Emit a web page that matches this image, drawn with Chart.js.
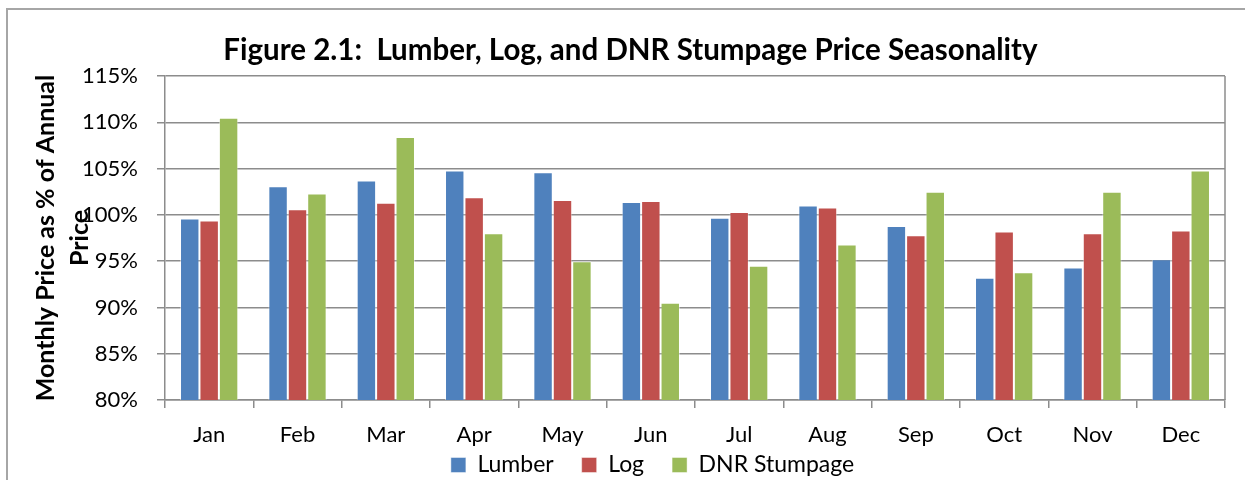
<!DOCTYPE html>
<html>
<head>
<meta charset="utf-8">
<script src="https://cdn.jsdelivr.net/npm/chart.js@4"></script>
<style>
  html, body { margin: 0; padding: 0; background: #fff; }
  #wrap { width: 1245px; height: 480px; }
</style>
</head>
<body>
<div id="wrap"><canvas id="myChart" width="1245" height="480"></canvas></div>
<script>
// months on the x axis
var months = ['Jan', 'Feb', 'Mar', 'Apr', 'May', 'Jun', 'Jul', 'Aug', 'Sep', 'Oct', 'Nov', 'Dec'];

// monthly price as % of annual price
var lumber = [99.6, 103.1, 103.7, 104.8, 104.6, 101.4, 99.7, 101.0, 98.8, 93.2, 94.3, 95.2];
var log = [99.4, 100.6, 101.3, 101.9, 101.6, 101.5, 100.3, 100.8, 97.8, 98.2, 98.0, 98.3];
var stumpage = [110.5, 102.3, 108.4, 98.0, 95.0, 90.5, 94.5, 96.8, 102.5, 93.8, 102.5, 104.8];

var yTicks = [80, 85, 90, 95, 100, 105, 110, 115];

var FONT = 'Lato, "Open Sans", sans-serif';
Chart.defaults.font.family = FONT;
Chart.defaults.color = '#000';

// outer frame, right edge of the plot area, legend nudged like the excel original
var framePlugin = {
    id: 'frame',
    afterLayout: function (chart) {
        var lg = chart.legend;
        lg.top -= 24.5; lg.bottom -= 24.5;
        lg.left += 22; lg.right += 22;
    },
    afterDraw: function (chart) {
        var ctx = chart.ctx;
        var a = chart.chartArea;
        ctx.save();
        ctx.strokeStyle = '#a6a6a6';
        ctx.lineWidth = 2;
        ctx.beginPath();
        ctx.moveTo(7, 480);
        ctx.lineTo(7, 9);
        ctx.lineTo(1245, 9);
        ctx.stroke();
        ctx.strokeStyle = '#8c8c8c';
        ctx.lineWidth = 1.5;
        ctx.beginPath();
        ctx.moveTo(a.right, a.top);
        ctx.lineTo(a.right, a.bottom);
        ctx.stroke();
        ctx.restore();
    }
};

var ctx = document.getElementById('myChart').getContext('2d');
var chart = new Chart(ctx, {
    type: 'bar',
    data: {
        labels: months,
        datasets: [
            { label: 'Lumber', data: lumber, backgroundColor: '#4F81BD', borderColor: 'rgba(255,255,255,0.45)', borderWidth: 1 },
            { label: 'Log', data: log, backgroundColor: '#C0504D', borderColor: 'rgba(255,255,255,0.45)', borderWidth: 1 },
            { label: 'DNR Stumpage', data: stumpage, backgroundColor: '#9BBB59', borderColor: 'rgba(255,255,255,0.45)', borderWidth: 1 }
        ]
    },
    options: {
        responsive: false,
        animation: false,
        layout: { padding: { left: 36, right: 20, top: 0, bottom: -31 } },
        datasets: { bar: { categoryPercentage: 0.66, barPercentage: 1.0 } },
        plugins: {
            title: {
                display: true,
                text: 'Figure 2.1:  Lumber, Log, and DNR Stumpage Price Seasonality',
                font: { size: 29.5, weight: 'bold', family: FONT, lineHeight: 1.2 },
                color: '#000',
                padding: { top: 33, bottom: 7.6 }
            },
            legend: {
                position: 'bottom',
                labels: {
                    boxWidth: 15,
                    boxHeight: 15,
                    padding: 28,
                    font: { size: 23, family: FONT },
                    color: '#000'
                }
            },
            tooltip: { enabled: false }
        },
        scales: {
            x: {
                grid: { display: true, drawOnChartArea: false, drawTicks: true, tickLength: 8, color: '#8c8c8c', lineWidth: 1.5, offset: true },
                border: { color: '#8c8c8c', width: 1.5 },
                ticks: { font: { size: 22, family: FONT }, color: '#000', padding: 14 },
                afterFit: function (scale) { scale.height = 50; }
            },
            y: {
                min: 80,
                max: 115,
                afterBuildTicks: function (scale) {
                    scale.ticks = yTicks.map(function (v) { return { value: v }; });
                },
                grid: { color: '#8c8c8c', lineWidth: 1.5, tickLength: 8 },
                border: { color: '#8c8c8c', width: 1.5 },
                ticks: {
                    font: { size: 22, family: FONT },
                    color: '#000',
                    padding: 19,
                    callback: function (v) { return v + '%'; }
                },
                title: {
                    display: true,
                    text: ['Monthly Price as % of Annual', 'Price'],
                    font: { size: 25, weight: 'bold', family: FONT, lineHeight: 1.36 },
                    color: '#000',
                    padding: { top: -7, bottom: 0 }
                },
                afterFit: function (scale) { scale.width = 129; }
            }
        }
    },
    plugins: [framePlugin]
});
</script>
</body>
</html>
